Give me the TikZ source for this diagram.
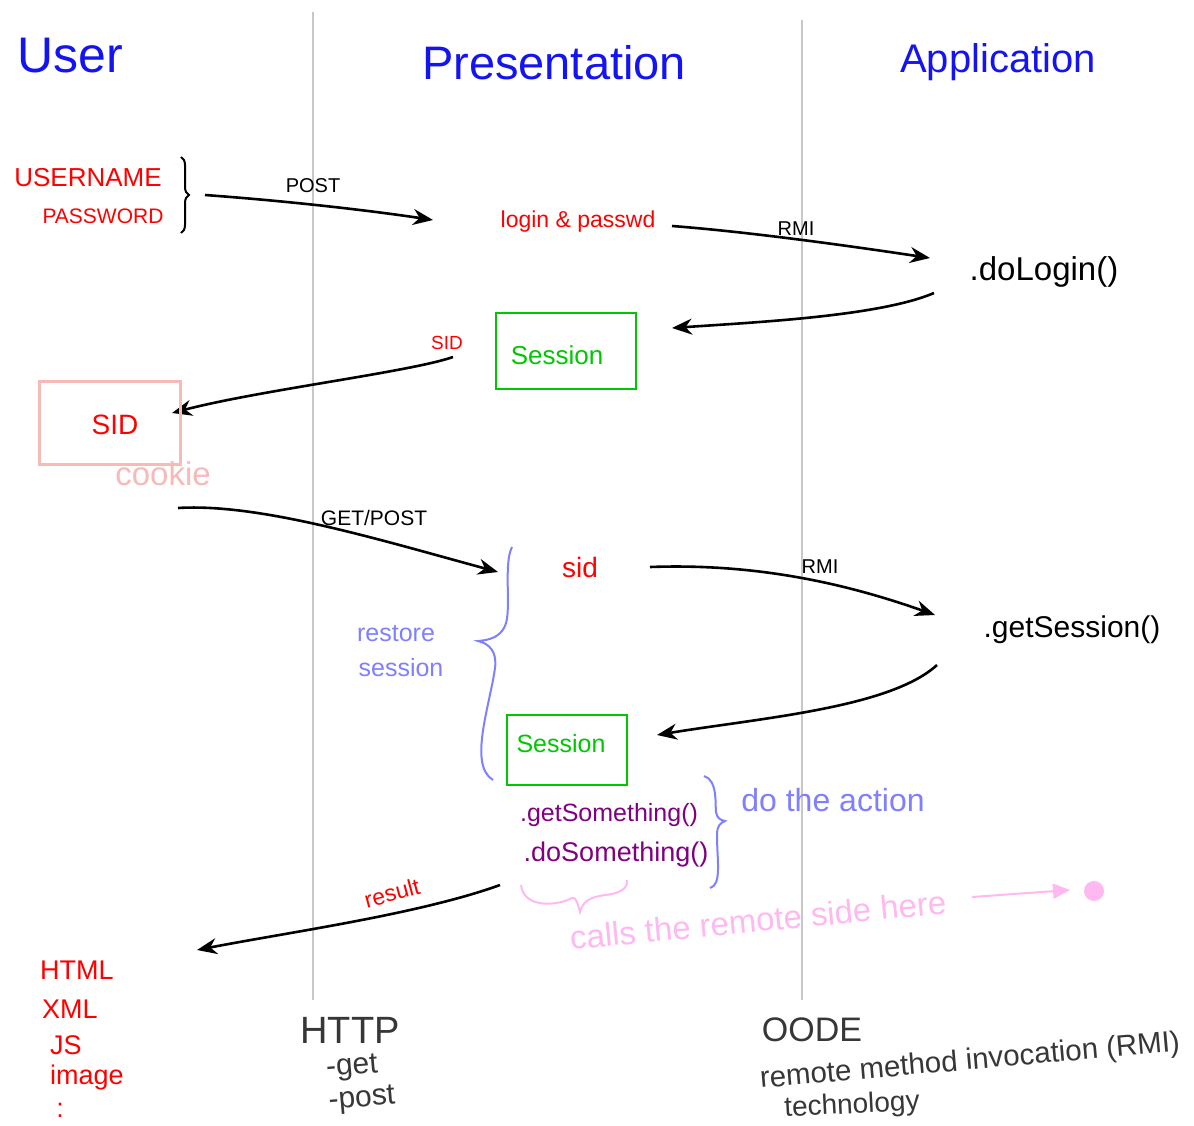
\documentclass[tikz,border=0pt]{standalone}
\usepackage{fontspec}
\setmainfont{Liberation Sans}
\usetikzlibrary{arrows.meta,decorations.pathreplacing}
\definecolor{hblue}{RGB}{20,20,240}
\definecolor{hred}{RGB}{255,0,0}
\definecolor{hgreen}{RGB}{0,200,0}
\definecolor{lblue}{RGB}{128,128,255}
\definecolor{hpink}{RGB}{255,185,240}
\definecolor{cpink}{RGB}{248,185,185}
\definecolor{hpurple}{RGB}{128,0,128}
\definecolor{lgray}{RGB}{200,200,200}
\definecolor{dgray}{RGB}{55,55,55}
\newcommand\fsz[1]{\fontsize{#1}{#1}\selectfont}
\begin{document}
\begin{tikzpicture}[x=1pt,y=-1pt,
  every node/.style={inner sep=0pt},
  hdr/.style={text=hblue},
  arr/.style={-{Stealth[length=20pt,width=16pt]}, line width=2.6pt, black},
  colline/.style={draw=lgray, line width=2.6pt},
  gbox/.style={draw=hgreen, line width=2.6pt},
  bbrace/.style={draw=lblue, line width=2pt},
  pbrace/.style={draw=hpink, line width=2pt}]
\useasboundingbox[fill=white] (0,0) rectangle (1194,1126);

% column lines
\coordinate (c1t) at (313,12);
\coordinate (c1b) at (313,1000);
\coordinate (c2t) at (802,20);
\coordinate (c2b) at (802,1000);
\draw[colline] (c1t) -- (c1b);
\draw[colline] (c2t) -- (c2b);

% headers
\node[hdr, font=\fsz{50}] (user) at (70,56) {User};
\node[hdr, font=\fsz{47}] (pres) at (554,63) {Presentation};
\node[hdr, font=\fsz{40}] (app) at (998,62) {Application};

% login step
\node[text=hred, font=\fsz{26}] (uname) at (88,178) {USERNAME};
\node[text=hred, font=\fsz{21}] (pword) at (103,216) {PASSWORD};
\coordinate (brt) at (181,157);
\coordinate (brb) at (181,233);
\draw[line width=2pt, decorate, decoration={brace, amplitude=8pt}] (brt) -- (brb);
\coordinate (p1s) at (205,195);
\coordinate (p1e) at (433,220);
\draw[arr] (p1s) .. controls (300,202) and (380,212) .. (p1e);
\node[font=\fsz{20}] (postl) at (313,186) {POST};
\node[text=hred, font=\fsz{23}] (login) at (578,222) {login \& passwd};
\coordinate (r1s) at (672,226);
\coordinate (r1e) at (930,258);
\draw[arr] (r1s) .. controls (750,232) and (850,246) .. (r1e);
\node[font=\fsz{20}] (rmi1) at (796,229) {RMI};
\node[font=\fsz{33}] (dologin) at (1044,272) {.doLogin()};
\coordinate (b1s) at (934,293);
\coordinate (b1e) at (672,328);
\draw[arr] (b1s) .. controls (880,316) and (760,322) .. (b1e);

% session box 1
\node[gbox, minimum width=140pt, minimum height=76pt] (s1box) at (566,351) {};
\node[text=hgreen, font=\fsz{26}] (s1) at (557,355) {Session};
\node[text=hred, font=\fsz{19}] (sidl) at (447,343) {SID};
\coordinate (sa) at (453,357);
\coordinate (sb) at (172,413);
\draw[arr] (sa) .. controls (410,372) and (260,390) .. (sb);

% cookie
\node[draw=cpink, line width=2.2pt, minimum width=141pt, minimum height=83pt] (ckbox) at (110,423) {};
\node[text=hred, font=\fsz{28}] (sidc) at (115,425) {SID};
\node[text=cpink, font=\fsz{33}] (cookie) at (163,474) {cookie};

% request step
\coordinate (g1s) at (178,508);
\coordinate (g1e) at (498,572);
\draw[arr] (g1s) .. controls (260,503) and (380,540) .. (g1e);
\node[font=\fsz{21}] (getpost) at (374,518) {GET/POST};
\draw[bbrace] (512,547) .. controls (503,565) and (512,610) .. (505,626)
  .. controls (500,637) and (490,640) .. (478,641)
  .. controls (490,644) and (497,652) .. (495,668)
  .. controls (490,705) and (468,765) .. (493,780);
\node[text=lblue, font=\fsz{25}] (restore) at (396,634) {restore};
\node[text=lblue, font=\fsz{25}] (session) at (401,668) {session};
\node[text=hred, font=\fsz{28}] (sid) at (580,567) {sid};
\coordinate (r2s) at (650,567);
\coordinate (r2e) at (935,615);
\draw[arr] (r2s) .. controls (760,563) and (850,585) .. (r2e);
\node[font=\fsz{20}] (rmi2) at (820,567) {RMI};
\node[font=\fsz{30}] (getsession) at (1072,630) {.getSession()};
\coordinate (b2s) at (937,665);
\coordinate (b2e) at (657,735);
\draw[arr] (b2s) .. controls (890,708) and (760,718) .. (b2e);

% session box 2
\node[gbox, minimum width=120pt, minimum height=70pt] (s2box) at (567,750) {};
\node[text=hgreen, font=\fsz{25}] (s2) at (561,744) {Session};
\node[text=hpurple, font=\fsz{25}] (getsth) at (609,815) {.getSomething()};
\node[text=hpurple, font=\fsz{27}] (dosth) at (616,855) {.doSomething()};
\draw[bbrace] (704,776) .. controls (718,780) and (715,805) .. (716,812)
  .. controls (717,818) and (720,820) .. (725,821)
  .. controls (720,823) and (717,826) .. (717,835)
  .. controls (717,860) and (722,885) .. (710,888);
\node[text=lblue, font=\fsz{32}] (action) at (833,800) {do the action};
\draw[pbrace] (521,885) .. controls (524,910) and (560,905) .. (572,898)
  .. controls (576,896) and (578,905) .. (580,912)
  .. controls (583,900) and (592,897) .. (605,895)
  .. controls (625,893) and (628,885) .. (627,880);
\node[text=hpink, font=\fsz{33}, rotate=5.5] (calls) at (758,920) {calls the remote side here};
\coordinate (pks) at (972,897);
\node[circle, fill=hpink, minimum size=20pt] (dot) at (1094,891) {};
\coordinate (pke) at (1070,890);
\draw[draw=hpink, line width=2pt, -{Triangle[length=17pt,width=15pt]}] (pks) -- (pke);

% result
\coordinate (rs) at (500,885);
\coordinate (re) at (197,950);
\draw[arr] (rs) .. controls (420,914) and (290,932) .. (re);
\node[text=hred, font=\fsz{23}, rotate=15] (result) at (392,893) {result};
\node[text=hred, font=\fsz{27}, anchor=west] (html) at (40,970) {HTML};
\node[text=hred, font=\fsz{27}, anchor=west] (xml) at (42,1009) {XML};
\node[text=hred, font=\fsz{27}, anchor=west] (js) at (50,1045) {JS};
\node[text=hred, font=\fsz{27}, anchor=west] (image) at (50,1078) {image};
\node[text=hred, font=\fsz{27}] (more) at (60,1110) {:};

% bottom notes
\node[text=dgray, font=\fsz{38}] (http) at (350,1030) {HTTP};
\node[text=dgray, font=\fsz{30}, rotate=5] (get) at (352,1068) {-get};
\node[text=dgray, font=\fsz{30}, rotate=5] (post) at (362,1100) {-post};
\node[text=dgray, font=\fsz{34}] (oode) at (812,1030) {OODE};
\node[text=dgray, font=\fsz{29.5}, rotate=5] (rmit) at (970,1062) {remote method invocation (RMI)};
\node[text=dgray, font=\fsz{28}, rotate=3] (tech) at (852,1106) {technology};
\end{tikzpicture}
\end{document}
